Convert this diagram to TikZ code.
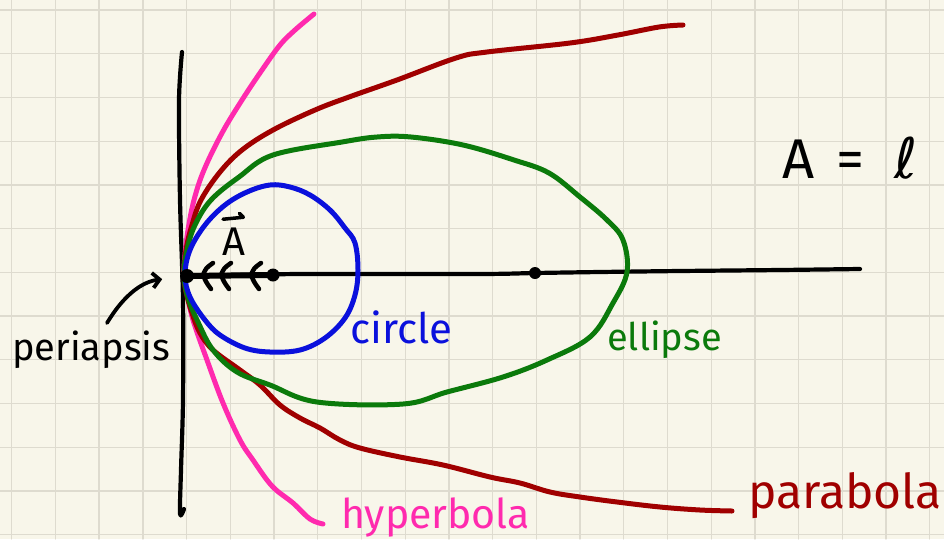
\documentclass[tikz,border=0pt]{standalone}
\usepackage{fontspec}
\setmainfont{Fira Sans}
\newfontfamily\dejavu{DejaVu Sans}
\usetikzlibrary{arrows.meta}
\definecolor{paper}{HTML}{F8F6EA}
\definecolor{gridline}{HTML}{DEDBCF}
\definecolor{orbitblue}{HTML}{0A10DC}
\definecolor{orbitgreen}{HTML}{0B7A0B}
\definecolor{orbitred}{HTML}{A00000}
\definecolor{orbitpink}{HTML}{FF2AAE}
\begin{document}
\begin{tikzpicture}[x=1pt, y=-1pt, line cap=round, line join=round,
    orbit/.style={line width=5pt},
    pen/.style={font=\fontsize{#1}{#1}\selectfont, inner sep=0pt, anchor=base west}]

    % Paper and grid
    \useasboundingbox (0,0) rectangle (944,539);
    \fill[paper] (0,0) rectangle (944,539);
    \foreach \gx in {0,...,21} {
        \draw[gridline, line width=1.3pt] ({11.7+43.72*\gx},0) -- ++(0,539);
    }
    \foreach \gy in {0,...,12} {
        \draw[gridline, line width=1.3pt] (0,{10+43.72*\gy}) -- ++(944,0);
    }

    % Points on the axis
    \coordinate (F) at (187,276);
    \coordinate (Atip) at (273,275);
    \coordinate (C) at (535,273);
    \coordinate (tail) at (107,323);

    % Axes
    \draw[line width=4.2pt] plot[smooth] coordinates {(182,52) (179,100) (180,200) (183,300) (183,400) (181,470) (180,514) (184,509)};
    \draw[line width=4.2pt] plot[smooth] coordinates {(184,276) (300,274) (480,274) (535,273) (600,272) (680,271) (780,270) (860,269)};

    % Hyperbola
    \draw[orbit, orbitpink] plot[smooth, tension=0.6] coordinates {(314,14) (295,30) (280,45) (262,70) (242,100) (222,133) (204,170) (194,200) (188,230) (185,255) (184,275) (187,293) (193,320) (207,360) (223,403) (240,440) (253,460) (272,486) (293,503) (310,519) (323,524)};

    % Parabola
    \draw[orbit, orbitred] plot[smooth, tension=0.6] coordinates {(683,25) (659,27) (618,35) (570,43) (487,52) (456,58) (397,80) (349,97) (315,110) (273,130) (242,150) (220,172) (201,200) (192,225) (186,250) (184,275) (186,292) (192,313) (200,333) (213,350) (240,370) (260,385) (280,405) (300,418) (320,428) (340,440) (360,448) (400,457) (443,465) (490,477) (520,483) (550,492) (580,497) (617,502) (660,507) (700,510) (732,511)};

    % Ellipse
    \draw[orbit, orbitgreen] plot[smooth cycle, tension=0.6] coordinates {(184,275) (187,250) (195,225) (211,200) (239,177) (273,155) (342,142) (377,137) (411,137) (463,145) (514,160) (549,173) (580,197) (607,220) (623,240) (627,272) (613,303) (590,337) (547,360) (503,377) (447,392) (403,404) (317,402) (270,385) (237,372) (213,350) (198,322) (188,298)};

    % Circle
    \draw[orbit, orbitblue] plot[smooth cycle, tension=0.6] coordinates {(185,275) (190,250) (205,225) (225,205) (247,192) (270,185) (290,187) (310,195) (330,210) (345,228) (355,243) (358,270) (355,295) (345,318) (325,338) (300,350) (270,352) (245,348) (220,335) (205,320) (190,297)};

    % Vector A with chevrons
    \draw[line width=6pt] (F) -- (Atip);
    \foreach \cx in {203,221,251} {
        \draw[line width=4.5pt] (\cx+10,263) .. controls (\cx+3,268) .. (\cx,275) .. controls (\cx+3,282) .. (\cx+8,289);
    }
    \fill (F) circle (7pt);
    \fill (Atip) circle (6.5pt);
    \fill (C) circle (6pt);

    % Labels
    \node[pen=40] (Avec) at (222,255) {A};
    \draw[line width=3.5pt] ([xshift=1pt, yshift=8pt]Avec.north west) -- ([xshift=-2pt, yshift=10pt]Avec.north east) -- ([xshift=-6pt, yshift=14pt]Avec.north east);
    \node[pen=56] (law) at (782,178) {A\hspace{22pt}=\hspace{30pt}{\dejavu ℓ}};
    \node[pen=38] (peri) at (12,360) {periapsis};
    \node[pen=42, text=orbitblue] (circ) at (350,343) {circle};
    \node[pen=38, text=orbitgreen] (elli) at (607,350) {ellipse};
    \node[pen=41, text=orbitpink] (hyp) at (341,528) {hyperbola};
    \node[pen=48, text=orbitred] (para) at (748,508) {parabola};

    % Periapsis pointer
    \draw[line width=3.8pt, -{Straight Barb[length=7pt, width=15pt]}, shorten >=25pt] (tail) .. controls (122,298) and (140,282) .. (F);

\end{tikzpicture}
\end{document}
